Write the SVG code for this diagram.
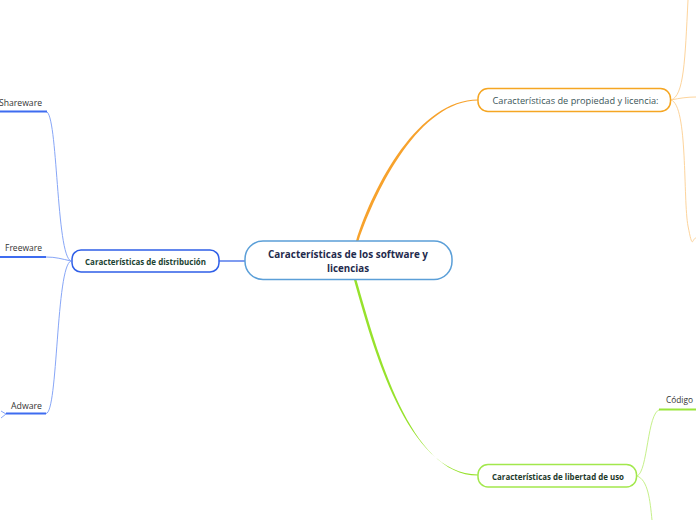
<svg xmlns="http://www.w3.org/2000/svg" width="696" height="520" viewBox="0 0 696 520">
<style>
.node{fill:#fff;stroke-width:1.5}
.t{font-family:"Open Sans","Noto Sans",sans-serif}
.b{font-weight:bold}
.lbl{font-family:"Open Sans","Noto Sans",sans-serif;font-size:9.5px;fill:#333}
.bl{fill:none;stroke:#87a6f7;stroke-width:1}
.ol{fill:none;stroke:#fdd49c;stroke-width:1}
.gl{fill:none;stroke:#c6f08a;stroke-width:1}
</style>
<rect width="696" height="520" fill="#fff"/>
<g id="connectors">
  <path d="M356,241 C373.5,184.5 419,99.4 478,99.4 L478,100.6 C420,100.7 377,187 358.5,241 Z" fill="#f7a22c"/>
  <path d="M354,280 C373,347 407,474.4 478,474.4 L478,475.6 C410,475.8 377,351 356.5,280 Z" fill="#97e22c"/>
  <line x1="219" y1="261" x2="245" y2="261" stroke="#3a66e8" stroke-width="1.3"/>
  <path class="bl" d="M71,261 C56,256 58,112 46,111.5"/>
  <path class="bl" d="M71,261 C62,259 56,257 46,257"/>
  <path class="bl" d="M71,261 C56,266 58,413.5 46,413.5"/>
  <path class="bl" d="M6,414 L1,411 M6,414 L1,418"/>
  <line x1="0" y1="111.5" x2="47" y2="111.5" stroke="#3e6cf0" stroke-width="2"/>
  <line x1="0" y1="257" x2="46" y2="257" stroke="#3e6cf0" stroke-width="2"/>
  <line x1="6" y1="413.5" x2="46" y2="413.5" stroke="#3e6cf0" stroke-width="2"/>
  <path class="ol" d="M671,100 C684,96 685,60 688,0"/>
  <path class="ol" d="M671,100 C680,98 688,97 696,97"/>
  <path class="ol" d="M671,100 C688,105 683,200 688,226 S692,238 696,238"/>
  <path class="gl" d="M637,476 C648,472 647,412 660,409.5"/>
  <path class="gl" d="M637,476 C648,480 650,500 652,520"/>
  <line x1="659" y1="409.5" x2="696" y2="409.5" stroke="#9ae53a" stroke-width="2"/>
</g>
<g id="central">
  <rect class="node" x="245" y="241" width="207" height="38.5" rx="18" stroke="#5b9fd8"/>
  <text class="t b" x="348" y="258" font-size="10.5" fill="#1f2b4d" text-anchor="middle" textLength="160" lengthAdjust="spacingAndGlyphs">Características de los software y</text>
  <text class="t b" x="348" y="272" font-size="10.5" fill="#1f2b4d" text-anchor="middle" textLength="42" lengthAdjust="spacingAndGlyphs">licencias</text>
</g>
<g id="propiedad">
  <rect class="node" x="478" y="88.5" width="192.5" height="23" rx="10" stroke="#f5a623"/>
  <text class="t" x="575.5" y="104" font-size="9.8" fill="#3b5558" text-anchor="middle" textLength="166" lengthAdjust="spacingAndGlyphs">Características de propiedad y licencia:</text>
</g>
<g id="libertad">
  <rect class="node" x="478" y="464.5" width="158.5" height="22.5" rx="10" stroke="#a2e84c"/>
  <text class="t b" x="558" y="479.5" font-size="8.8" fill="#1d3a2b" text-anchor="middle" textLength="132" lengthAdjust="spacingAndGlyphs">Características de libertad de uso</text>
</g>
<g id="distribucion">
  <rect class="node" x="72" y="250" width="147" height="22" rx="9" stroke="#2f5fe8"/>
  <text class="t b" x="145.5" y="264.5" font-size="8.8" fill="#1b4332" text-anchor="middle" textLength="121" lengthAdjust="spacingAndGlyphs">Características de distribución</text>
</g>
<g id="shareware"><text class="lbl" x="-1" y="106" textLength="43" lengthAdjust="spacingAndGlyphs">Shareware</text></g>
<g id="freeware"><text class="lbl" x="5" y="251" textLength="37" lengthAdjust="spacingAndGlyphs">Freeware</text></g>
<g id="adware"><text class="lbl" x="11" y="408.5" textLength="31" lengthAdjust="spacingAndGlyphs">Adware</text></g>
<g id="codigo"><text class="lbl" x="666" y="403" textLength="27" lengthAdjust="spacingAndGlyphs">Código</text></g>
</svg>
